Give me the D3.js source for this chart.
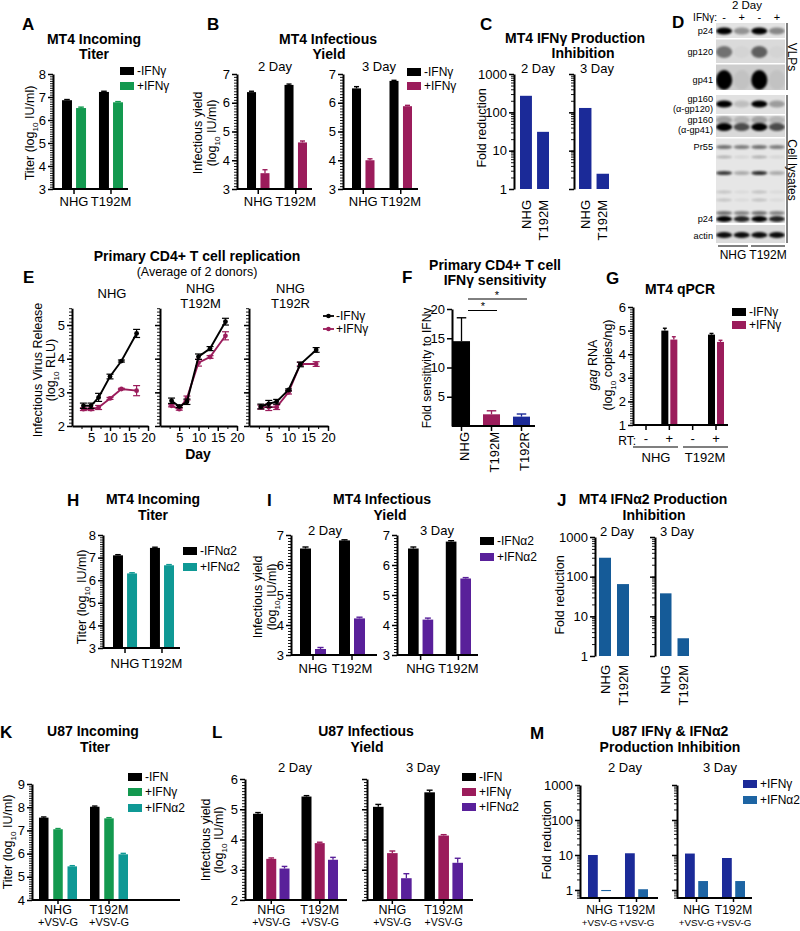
<!DOCTYPE html>
<html>
<head>
<meta charset="utf-8">
<script src="https://cdn.jsdelivr.net/npm/d3@7/dist/d3.min.js"></script>
<style>
 html,body{margin:0;padding:0;background:#fff;}
 svg{display:block;}
</style>
</head>
<body>
<svg id="fig" width="800" height="931"></svg>
<script>
// ================= DATA =================
const mt4Groups = ["NHG", "T192M"];
const u87Groups = ["NHG", "T192M"];
const u87Sub = "+VSV-G";
const legIFNg = ["-IFNγ", "+IFNγ"];
const legIFNa = ["-IFNα2", "+IFNα2"];
const legU87 = ["-IFN", "+IFNγ", "+IFNα2"];
const legM = ["+IFNγ", "+IFNα2"];
const dayLabels = ["2 Day", "3 Day"];

// A  MT4 incoming titer (log10 IU/ml)
const aNoIFN = [6.86, 7.22];
const aNoIFNErr = [0.03, 0.03];
const aIFNg = [6.52, 6.77];
const aIFNgErr = [0.04, 0.03];
// B  MT4 infectious yield
const bDay2NoIFN = [6.37, 6.62];
const bDay2NoIFNErr = [0.03, 0.03];
const bDay2IFNg = [3.55, 4.62];
const bDay2IFNgErr = [0.12, 0.05];
const bDay3NoIFN = [6.5, 6.76];
const bDay3NoIFNErr = [0.06, 0.02];
const bDay3IFNg = [4.0, 5.88];
const bDay3IFNgErr = [0.05, 0.03];
// C  fold reduction
const cDay2 = [270, 31];
const cDay3 = [130, 2.5];
// D  western blot band intensities (lanes: NHG -, NHG +, T192M -, T192M +)
const dLanes = ["-", "+", "-", "+"];
const dGroups = ["NHG", "T192M"];
const dP24VLP = [1.0, 0.35, 1.0, 0.4];
const dGp120 = [0.6, 0.03, 0.7, 0.03];
const dGp41 = [1.0, 0.05, 1.0, 0.05];
const dGp160a120 = [1.0, 0.15, 1.0, 0.3];
const dGp160a41 = [1.0, 0.65, 1.0, 0.65];
const dPr55 = [0.5, 0.45, 0.5, 0.45];
const dGagMid = [0.75, 0.25, 0.8, 0.25];
const dP24Cell = [1.0, 0.85, 1.0, 0.85];
const dActin = [0.95, 0.95, 0.95, 0.95];
// E  primary CD4+ T cell replication (log10 RLU)
const eDays = [3, 5, 7, 10, 13, 17];
const eTitles = [["NHG"], ["NHG", "T192M"], ["NHG", "T192R"]];
const eNHGNo = [2.6, 2.6, 2.85, 3.47, 3.93, 4.75];
const eNHGNoErr = [0.08, 0.08, 0.12, 0.07, 0.03, 0.12];
const eNHGIFNg = [2.5, 2.5, 2.55, 2.82, 3.1, 3.05];
const eNHGIFNgErr = [0.04, 0.04, 0.06, 0.03, 0.02, 0.15];
const eT192MNo = [2.75, 2.58, 2.72, 4.06, 4.3, 5.1];
const eT192MNoErr = [0.08, 0.03, 0.08, 0.08, 0.06, 0.1];
const eT192MIFNg = [2.6, 2.5, 2.83, 3.88, 4.05, 4.68];
const eT192MIFNgErr = [0.03, 0.03, 0.06, 0.1, 0.04, 0.12];
const eT192RNo = [2.58, 2.66, 2.72, 3.07, 3.83, 4.26];
const eT192RNoErr = [0.07, 0.1, 0.07, 0.03, 0.07, 0.07];
const eT192RIFNg = [2.56, 2.56, 2.56, 3.0, 3.84, 3.84];
const eT192RIFNgErr = [0.06, 0.1, 0.07, 0.05, 0.05, 0.07];
// F  fold sensitivity to IFNγ
const fGroups = ["NHG", "T192M", "T192R"];
const fValues = [14.5, 2.0, 1.6];
const fErr = [4.0, 0.6, 0.45];
// G  MT4 qPCR (log10 copies/ng)
const gIds = ["NHG-", "NHG+", "T192M-", "T192M+"];
const gRT = ["-", "+", "-", "+"];
const gNoIFN = [null, 5.0, null, 4.83];
const gNoIFNErr = [0, 0.1, 0, 0.05];
const gIFNg = [null, 4.62, null, 4.52];
const gIFNgErr = [0, 0.12, 0, 0.07];
// H  MT4 incoming titer, IFNα2
const hNoIFN = [7.1, 7.43];
const hNoIFNErr = [0.03, 0.03];
const hIFNa = [6.3, 6.66];
const hIFNaErr = [0.03, 0.03];
// I  MT4 infectious yield, IFNα2
const iDay2NoIFN = [6.55, 6.82];
const iDay2NoIFNErr = [0.05, 0.02];
const iDay2IFNa = [3.2, 4.22];
const iDay2IFNaErr = [0.05, 0.04];
const iDay3NoIFN = [6.55, 6.78];
const iDay3NoIFNErr = [0.05, 0.03];
const iDay3IFNa = [4.18, 5.55];
const iDay3IFNaErr = [0.05, 0.03];
// J  fold reduction IFNα2
const jDay2 = [300, 65];
const jDay3 = [38, 2.8];
// K  U87 incoming titer
const kNoIFN = [7.55, 8.02];
const kNoIFNErr = [0.03, 0.03];
const kIFNg = [7.05, 7.52];
const kIFNgErr = [0.03, 0.03];
const kIFNa = [5.45, 5.97];
const kIFNaErr = [0.03, 0.04];
// L  U87 infectious yield
const lDay2NoIFN = [4.85, 5.42];
const lDay2NoIFNErr = [0.04, 0.03];
const lDay2IFNg = [3.36, 3.88];
const lDay2IFNgErr = [0.03, 0.03];
const lDay2IFNa = [3.04, 3.33];
const lDay2IFNaErr = [0.07, 0.08];
const lDay3NoIFN = [5.08, 5.56];
const lDay3NoIFNErr = [0.08, 0.07];
const lDay3IFNg = [3.55, 4.13];
const lDay3IFNgErr = [0.07, 0.03];
const lDay3IFNa = [2.72, 3.23];
const lDay3IFNaErr = [0.15, 0.15];
// M  U87 fold reduction
const mDay2IFNg = [10, 11.2];
const mDay2IFNa = [0.93, 1.05];
const mDay3IFNg = [11, 8.2];
const mDay3IFNa = [1.8, 1.8];

// ================= STYLE =================
const FONT = "'Liberation Sans', Arial, Helvetica, sans-serif";
const cBlack = "#000000", cGreen = "#13994f", cMaroon = "#9b1c5b", cTeal = "#0f9995",
      cPurple = "#59209a", cNavy = "#1b2a98", cBlueJ = "#155b98", cBlueM2 = "#1d64a3";

const svg = d3.select("#fig").attr("font-family", FONT);
const defs = svg.append("defs");
defs.append("filter").attr("id", "blur").attr("x", "-50%").attr("y", "-50%")
  .attr("width", "200%").attr("height", "200%")
  .append("feGaussianBlur").attr("stdDeviation", 1.1);

// ================= HELPERS =================
function T(x, y, s, size = 13, anchor = "middle", weight = "normal", rot = 0) {
  const t = svg.append("text").attr("x", x).attr("y", y).attr("font-size", size)
    .attr("text-anchor", anchor).attr("font-weight", weight).attr("fill", "#000").text(s);
  if (rot) t.attr("transform", `rotate(${rot},${x},${y})`);
  return t;
}
function yLabel(x, yc, parts, size = 12.5) {
  const t = svg.append("text").attr("x", x).attr("y", yc).attr("dy", "0.35em")
    .attr("font-size", size).attr("text-anchor", "middle")
    .attr("transform", `rotate(-90,${x},${yc})`);
  parts.forEach(p => {
    const ts = t.append("tspan").text(p.t);
    if (p.sub) ts.attr("font-size", size * 0.65).attr("dy", size * 0.3);
    if (p.after) ts.attr("dy", -size * 0.3);
    if (p.it) ts.attr("font-style", "italic");
  });
}
const log10Parts = (pre, post) => [{t: pre}, {t: "10", sub: true}, {t: post, after: true}];

function logMinors(d0, d1) {
  const out = [];
  for (let k = Math.floor(Math.log10(d0)); k <= Math.ceil(Math.log10(d1)); k++)
    for (let m = 1; m <= 9; m++) { const v = m * Math.pow(10, k); if (v >= d0 * 0.999 && v <= d1 * 1.001) out.push(v); }
  return out;
}
function yAxis(x0, y, o) {
  const g = svg.append("g");
  if (o.minors && o.minors.length) {
    const mn = g.append("g").attr("transform", `translate(${x0},0)`)
      .call(d3.axisLeft(y).tickValues(o.minors).tickSize(3).tickFormat(""));
    mn.select(".domain").remove();
    mn.selectAll("line").attr("stroke-width", 0.9);
  }
  const ax = g.append("g").attr("transform", `translate(${x0},0)`)
    .call(d3.axisLeft(y).tickValues(o.majors).tickSize(5).tickSizeOuter(0).tickPadding(2)
      .tickFormat(o.labels === false ? "" : (o.fmt || (d => d))));
  ax.attr("font-family", FONT).attr("font-size", 13);
  ax.select(".domain").attr("stroke-width", 2);
  ax.selectAll(".tick line").attr("stroke-width", 1.5);
  return g;
}
function barChart(o) {
  const g = svg.append("g");
  const xg = d3.scaleBand().domain(o.groups).range(o.range).paddingInner(o.pG).paddingOuter(0);
  const xs = d3.scaleBand().domain(d3.range(o.series.length)).range([0, xg.bandwidth()])
    .paddingInner(o.pS || 0).paddingOuter(0);
  const base = o.y.range()[0];
  o.series.forEach((s, i) => {
    o.groups.forEach((gr, j) => {
      const v = s.v[j];
      if (v == null) return;
      const col = Array.isArray(s.c) ? s.c[j] : s.c;
      const x = xg(gr) + xs(i), w = xs.bandwidth();
      // on log panels a value below 1 is drawn from the 1 line downward (as in the original)
      if (o.log && v < 1) {
        g.append("rect").attr("x", x).attr("y", o.y(1)).attr("width", w)
          .attr("height", Math.max(1, o.y(v) - o.y(1))).attr("fill", col);
      } else {
        g.append("rect").attr("x", x).attr("y", o.y(v)).attr("width", w)
          .attr("height", Math.max(0, base - o.y(v))).attr("fill", col);
      }
      if (s.e && s.e[j] > 0) {
        const cx = x + w / 2, y1 = o.y(v + s.e[j]);
        g.append("line").attr("x1", cx).attr("x2", cx).attr("y1", o.y(v)).attr("y2", y1)
          .attr("stroke", col).attr("stroke-width", 1.3);
        g.append("line").attr("x1", cx - w * 0.28).attr("x2", cx + w * 0.28).attr("y1", y1).attr("y2", y1)
          .attr("stroke", col).attr("stroke-width", 1.4);
      }
    });
  });
  if (o.axisEnd) {
    g.append("line").attr("x1", o.axisX).attr("x2", o.axisEnd).attr("y1", base).attr("y2", base)
      .attr("stroke", "#000").attr("stroke-width", 2);
  }
  if (o.xTicks !== false) {
    const ax = g.append("g").attr("transform", `translate(0,${base})`)
      .call(d3.axisBottom(xg).tickSize(o.tickLen || 5).tickFormat(""));
    ax.select(".domain").remove();
    ax.selectAll("line").attr("stroke-width", 1.5);
  }
  return xg;
}
function xLabels(xg, yb, groups, sub = null, size = 13, subSize = 10.5) {
  groups.forEach(gr => {
    const cx = xg(gr) + xg.bandwidth() / 2;
    T(cx, yb, gr, size);
    if (sub) T(cx, yb + 12, sub, subSize);
  });
}
function xLabelsRot(xg, ytop, groups, size = 13, dx = 0) {
  groups.forEach(gr => {
    const cx = xg(gr) + xg.bandwidth() / 2 + dx;
    svg.append("text").attr("x", cx).attr("y", ytop).attr("dy", "0.35em").attr("text-anchor", "end")
      .attr("font-size", size).attr("transform", `rotate(-90,${cx},${ytop})`).text(gr);
  });
}
function legendBoxes(x, ys, labels, colors, size = 12) {
  labels.forEach((lab, i) => {
    svg.append("rect").attr("x", x).attr("y", ys[i] - 4).attr("width", 14).attr("height", 8).attr("fill", colors[i]);
    T(x + 17, ys[i] + 4.3, lab, size, "start");
  });
}
const linMinors = (a, b, s) => d3.range(a, b + s / 2, s);

// ================= PANEL A =================
{
  const y = d3.scaleLinear().domain([3, 8]).range([189, 74]);
  const xg = barChart({y, axisX: 53, axisEnd: 128, range: [62, 123], pG: 0.35, pS: 0.29, groups: mt4Groups,
    series: [{v: aNoIFN, e: aNoIFNErr, c: cBlack}, {v: aIFNg, e: aIFNgErr, c: cGreen}]});
  yAxis(53, y, {majors: [3, 4, 5, 6, 7, 8], minors: linMinors(3, 8, 0.1)});
  xLabels(xg, 206, mt4Groups);
  T(22, 30, "A", 17, "start", "bold");
  T(94, 43.5, "MT4 Incoming", 14, "middle", "bold");
  T(94, 59, "Titer", 14, "middle", "bold");
  yLabel(30, 133, log10Parts("Titer (log", " IU/ml)"));
  legendBoxes(120, [71, 86], legIFNg, [cBlack, cGreen]);
}
// ================= PANEL B =================
{
  const y = d3.scaleLinear().domain([3, 7]).range([189, 74]);
  const xg2 = barChart({y, axisX: 237, axisEnd: 312, range: [247, 307], pG: 0.4, pS: 0.33, groups: mt4Groups,
    series: [{v: bDay2NoIFN, e: bDay2NoIFNErr, c: cBlack}, {v: bDay2IFNg, e: bDay2IFNgErr, c: cMaroon}]});
  yAxis(237, y, {majors: [3, 4, 5, 6, 7], minors: linMinors(3, 7, 0.1)});
  xLabels(xg2, 206, mt4Groups);
  const xg3 = barChart({y, axisX: 343, axisEnd: 418, range: [352, 412], pG: 0.4, pS: 0.33, groups: mt4Groups,
    series: [{v: bDay3NoIFN, e: bDay3NoIFNErr, c: cBlack}, {v: bDay3IFNg, e: bDay3IFNgErr, c: cMaroon}]});
  yAxis(343, y, {majors: [3, 4, 5, 6, 7], minors: linMinors(3, 7, 0.1)});
  xLabels(xg3, 206, mt4Groups);
  T(207, 30, "B", 17, "start", "bold");
  T(328, 43.5, "MT4 Infectious", 14, "middle", "bold");
  T(329, 59, "Yield", 14, "middle", "bold");
  T(275, 71, dayLabels[0], 13);
  T(379, 71, dayLabels[1], 13);
  yLabel(198, 133, [{t: "Infectious yield"}]);
  yLabel(212, 133, log10Parts("(log", " IU/ml)"));
  legendBoxes(407, [72, 86], legIFNg, [cBlack, cMaroon]);
}
// ================= PANEL C =================
{
  const y = d3.scaleLog().domain([1, 1000]).range([189, 74]);
  const xg2 = barChart({y, log: true, range: [520, 549], pG: 0.3, groups: mt4Groups, xTicks: false,
    series: [{v: cDay2, c: cNavy}]});
  yAxis(514, y, {majors: [1, 10, 100, 1000], minors: logMinors(1, 1000)});
  xLabelsRot(xg2, 200, mt4Groups);
  const xg3 = barChart({y, log: true, range: [579, 609], pG: 0.29, groups: mt4Groups, xTicks: false,
    series: [{v: cDay3, c: cNavy}]});
  yAxis(574, y, {majors: [1, 10, 100, 1000], minors: logMinors(1, 1000), labels: false});
  xLabelsRot(xg3, 200, mt4Groups);
  T(480, 30, "C", 17, "start", "bold");
  T(575, 43, "MT4 IFNγ Production", 14, "middle", "bold");
  T(583, 57.5, "Inhibition", 14, "middle", "bold");
  T(538, 72.5, dayLabels[0], 13);
  T(597, 72.5, dayLabels[1], 13);
  yLabel(482, 128, [{t: "Fold reduction"}]);
}
// ================= PANEL D (blot) =================
{
  const g = svg.append("g");
  const lane = d3.scaleBand().domain(d3.range(dLanes.length)).range([716, 785]).paddingInner(0.08);
  const strips = [[23, 38, "#e3e3e3"], [39.5, 63, "#dadada"], [64.5, 90, "#cdcdcd"], [95, 114, "#e1e1e1"],
                  [115.5, 137, "#d9d9d9"], [138.5, 223, "#e6e6e6"], [225, 243, "#dcdcdc"]];
  strips.forEach((s, i) => {
    defs.append("clipPath").attr("id", "cl" + i).append("rect")
      .attr("x", 716).attr("y", s[0]).attr("width", 69).attr("height", s[1] - s[0]);
    g.append("rect").attr("x", 716).attr("y", s[0]).attr("width", 69).attr("height", s[1] - s[0]).attr("fill", s[2]);
  });
  const bands = [
    {s: 0, y: 31, h: 7, vals: dP24VLP},
    {s: 1, y: 52, h: 12, vals: dGp120, k: 0.8},
    {s: 2, y: 80, h: 20, vals: dGp41},
    {s: 3, y: 104, h: 7, vals: dGp160a120},
    {s: 4, y: 120, h: 8, vals: dGp160a41, k: 0.25},
    {s: 4, y: 127, h: 8, vals: dGp160a41},
    {s: 5, y: 147, h: 4, vals: dPr55},
    {s: 5, y: 157, h: 3, vals: dGagMid, k: 0.3},
    {s: 5, y: 173, h: 4, vals: dGagMid},
    {s: 5, y: 192, h: 3, vals: dGagMid, k: 0.2},
    {s: 5, y: 200, h: 3, vals: dGagMid, k: 0.2},
    {s: 5, y: 213, h: 4, vals: dP24Cell, k: 0.5},
    {s: 5, y: 219, h: 6, vals: dP24Cell},
    {s: 6, y: 235, h: 6, vals: dActin}
  ];
  bands.forEach(b => {
    const bg = g.append("g").attr("clip-path", `url(#cl${b.s})`);
    b.vals.forEach((v, i) => {
      bg.append("ellipse").attr("cx", lane(i) + lane.bandwidth() / 2).attr("cy", b.y)
        .attr("rx", lane.bandwidth() / 2).attr("ry", b.h / 2)
        .attr("fill", "#000").attr("opacity", v * (b.k || 1)).attr("filter", "url(#blur)");
    });
  });
  const lab = [["p24", 34], ["gp120", 55], ["gp41", 83], ["gp160", 102], ["(α-gp120)", 111.5],
               ["gp160", 123], ["(α-gp41)", 132.5], ["Pr55", 150], ["p24", 222], ["actin", 238.5]];
  lab.forEach(l => T(713, l[1], l[0], 9.2, "end"));
  T(747, 8.5, "2 Day", 11.5);
  T(717, 21, "IFNγ:", 10, "end");
  dLanes.forEach((s, i) => T(lane(i) + lane.bandwidth() / 2, 21, s, 11));
  g.append("line").attr("x1", 787).attr("x2", 787).attr("y1", 23).attr("y2", 90).attr("stroke", "#000").attr("stroke-width", 1);
  g.append("line").attr("x1", 787).attr("x2", 787).attr("y1", 95).attr("y2", 243).attr("stroke", "#000").attr("stroke-width", 1);
  T(792, 57, "VLPs", 12, "middle", "normal", 90).attr("dy", "0.35em");
  T(792, 170, "Cell lysates", 12, "middle", "normal", 90).attr("dy", "0.35em");
  g.append("line").attr("x1", 718).attr("x2", 748).attr("y1", 246).attr("y2", 246).attr("stroke", "#000");
  g.append("line").attr("x1", 751).attr("x2", 785).attr("y1", 246).attr("y2", 246).attr("stroke", "#000");
  T(733, 259, dGroups[0], 12);
  T(768, 259, dGroups[1], 12);
  T(672, 28, "D", 17, "start", "bold");
}
// ================= PANEL E =================
{
  const eXr = [[72, 148], [160, 237], [249, 328]];
  const y = d3.scaleLinear().domain([2, 5.5]).range([426, 308.2]);
  const sets = [
    [eNHGNo, eNHGNoErr, eNHGIFNg, eNHGIFNgErr],
    [eT192MNo, eT192MNoErr, eT192MIFNg, eT192MIFNgErr],
    [eT192RNo, eT192RNoErr, eT192RIFNg, eT192RIFNgErr]
  ];
  eXr.forEach((r, i) => {
    const x = d3.scaleLinear().domain([0, 20]).range(r);
    yAxis(r[0], y, {majors: [2, 3, 4, 5], minors: linMinors(2, 5.5, 0.1), labels: i === 0});
    const g = svg.append("g");
    const mn = g.append("g").attr("transform", "translate(0,426)")
      .call(d3.axisBottom(x).tickValues([2.5, 7.5, 12.5, 17.5]).tickSize(3).tickFormat(""));
    mn.select(".domain").remove();
    const xa = g.append("g").attr("transform", "translate(0,426)")
      .call(d3.axisBottom(x).tickValues([5, 10, 15, 20]).tickSize(5).tickSizeOuter(0).tickPadding(2));
    xa.attr("font-family", FONT).attr("font-size", 13);
    xa.select(".domain").attr("stroke-width", 2);
    xa.selectAll(".tick line").attr("stroke-width", 1.5);
    const [no, noE, ifn, ifnE] = sets[i];
    [[ifn, ifnE, cMaroon], [no, noE, cBlack]].forEach(([vals, errs, col]) => {
      const line = d3.line().x((d, j) => x(eDays[j])).y(d => y(d));
      g.append("path").datum(vals).attr("d", line).attr("fill", "none").attr("stroke", col).attr("stroke-width", 1.9);
      vals.forEach((v, j) => {
        const cx = x(eDays[j]);
        g.append("line").attr("x1", cx).attr("x2", cx).attr("y1", y(v - errs[j])).attr("y2", y(v + errs[j]))
          .attr("stroke", col).attr("stroke-width", 1.2);
        [v - errs[j], v + errs[j]].forEach(ev => g.append("line").attr("x1", cx - 3.5).attr("x2", cx + 3.5)
          .attr("y1", y(ev)).attr("y2", y(ev)).attr("stroke", col).attr("stroke-width", 1.2));
        g.append("circle").attr("cx", cx).attr("cy", y(v)).attr("r", 2.4).attr("fill", col);
      });
    });
    const cx = (r[0] + r[1]) / 2 + 2;
    if (eTitles[i].length === 1) T(cx, 298, eTitles[i][0], 13);
    else { T(cx, 293, eTitles[i][0], 13); T(cx, 308, eTitles[i][1], 13); }
  });
  T(198, 459, "Day", 14, "middle", "bold");
  T(23, 283, "E", 17, "start", "bold");
  T(197, 261, "Primary CD4+ T cell replication", 14, "middle", "bold");
  T(197, 276, "(Average of 2 donors)", 12.5);
  yLabel(38, 370, [{t: "Infectious Virus Release"}], 12.5);
  yLabel(51, 370, log10Parts("(log", " RLU)"), 12.5);
  [[316, cBlack, legIFNg[0]], [329, cMaroon, legIFNg[1]]].forEach(([yy, col, lab]) => {
    svg.append("line").attr("x1", 323).attr("x2", 334).attr("y1", yy).attr("y2", yy).attr("stroke", col).attr("stroke-width", 1.8);
    svg.append("circle").attr("cx", 328.5).attr("cy", yy).attr("r", 2.3).attr("fill", col);
    T(336, yy + 4.3, lab, 12, "start");
  });
}
// ================= PANEL F =================
{
  const y = d3.scaleLinear().domain([0, 20]).range([426, 309]);
  const xg = barChart({y, axisX: 452, axisEnd: 535, range: [453, 530], pG: 0.433, groups: fGroups,
    series: [{v: fValues, e: fErr, c: [cBlack, cMaroon, cNavy]}]});
  yAxis(452, y, {majors: [5, 10, 15, 20]});
  xLabelsRot(xg, 432, fGroups, 13, 3);
  T(402, 283, "F", 17, "start", "bold");
  T(495, 270, "Primary CD4+ T cell", 14, "middle", "bold");
  T(495, 285, "IFNγ sensitivity", 14, "middle", "bold");
  yLabel(427, 368, [{t: "Fold sensitivity to IFNγ"}], 12);
  svg.append("line").attr("x1", 468).attr("x2", 527).attr("y1", 299).attr("y2", 299).attr("stroke", "#000").attr("stroke-width", 1);
  svg.append("line").attr("x1", 468).attr("x2", 497).attr("y1", 310.5).attr("y2", 310.5).attr("stroke", "#000").attr("stroke-width", 1);
  T(497, 298.5, "*", 11);
  T(483, 310, "*", 11);
}
// ================= PANEL G =================
{
  const y = d3.scaleLinear().domain([1, 6]).range([425, 307]);
  const xg = barChart({y, axisX: 633, axisEnd: 728, range: [638, 724], pG: 0.314, pS: 0.22, groups: gIds,
    series: [{v: gNoIFN, e: gNoIFNErr, c: cBlack}, {v: gIFNg, e: gIFNgErr, c: cMaroon}]});
  yAxis(633, y, {majors: [1, 2, 3, 4, 5, 6], minors: linMinors(1, 6, 0.1)});
  gIds.forEach((id, i) => T(xg(id) + xg.bandwidth() / 2, 443, gRT[i], 13));
  T(636, 444.5, "RT:", 12, "end");
  svg.append("line").attr("x1", 633).attr("x2", 678).attr("y1", 447).attr("y2", 447).attr("stroke", "#000").attr("stroke-width", 1.2);
  svg.append("line").attr("x1", 683).attr("x2", 728).attr("y1", 447).attr("y2", 447).attr("stroke", "#000").attr("stroke-width", 1.2);
  T(656, 462, mt4Groups[0], 13);
  T(705, 462, mt4Groups[1], 13);
  T(606, 284, "G", 17, "start", "bold");
  T(680, 294, "MT4 qPCR", 14, "middle", "bold");
  yLabel(593, 365, [{t: "gag", it: true}, {t: " RNA"}]);
  yLabel(608, 365, log10Parts("(log", " copies/ng)"));
  legendBoxes(732, [312, 325], legIFNg, [cBlack, cMaroon]);
}
// ================= PANEL H =================
{
  const y = d3.scaleLinear().domain([3, 8]).range([648, 535]);
  const xg = barChart({y, axisX: 103, axisEnd: 180, range: [113, 174], pG: 0.35, pS: 0.29, groups: mt4Groups,
    series: [{v: hNoIFN, e: hNoIFNErr, c: cBlack}, {v: hIFNa, e: hIFNaErr, c: cTeal}]});
  yAxis(103, y, {majors: [3, 4, 5, 6, 7, 8], minors: linMinors(3, 8, 0.1)});
  xLabels(xg, 668, mt4Groups);
  T(67, 506, "H", 17, "start", "bold");
  T(153, 504, "MT4 Incoming", 14, "middle", "bold");
  T(153, 520, "Titer", 14, "middle", "bold");
  yLabel(82, 597, log10Parts("Titer (log", " IU/ml)"));
  legendBoxes(183, [551, 567], legIFNa, [cBlack, cTeal]);
}
// ================= PANEL I =================
{
  const y = d3.scaleLinear().domain([3, 7]).range([655, 535]);
  const xg2 = barChart({y, axisX: 291, axisEnd: 377, range: [300, 365], pG: 0.333, pS: 0.267, groups: mt4Groups,
    series: [{v: iDay2NoIFN, e: iDay2NoIFNErr, c: cBlack}, {v: iDay2IFNa, e: iDay2IFNaErr, c: cPurple}]});
  yAxis(291, y, {majors: [3, 4, 5, 6, 7], minors: linMinors(3, 7, 0.1)});
  xLabels(xg2, 673, mt4Groups);
  const xg3 = barChart({y, axisX: 397, axisEnd: 478, range: [408, 471], pG: 0.333, pS: 0.267, groups: mt4Groups,
    series: [{v: iDay3NoIFN, e: iDay3NoIFNErr, c: cBlack}, {v: iDay3IFNa, e: iDay3IFNaErr, c: cPurple}]});
  yAxis(397, y, {majors: [3, 4, 5, 6, 7], minors: linMinors(3, 7, 0.1)});
  xLabels(xg3, 673, mt4Groups);
  T(267, 506, "I", 17, "start", "bold");
  T(382, 504, "MT4 Infectious", 14, "middle", "bold");
  T(390, 520, "Yield", 14, "middle", "bold");
  T(325, 535, dayLabels[0], 13);
  T(437, 535, dayLabels[1], 13);
  yLabel(258, 597, [{t: "Infectious yield"}]);
  yLabel(272, 597, log10Parts("(log", " IU/ml)"));
  legendBoxes(480, [541, 557], legIFNa, [cBlack, cPurple]);
}
// ================= PANEL J =================
{
  const y = d3.scaleLog().domain([1, 1000]).range([656, 537]);
  const xg2 = barChart({y, log: true, range: [599, 629], pG: 0.333, groups: mt4Groups, xTicks: false,
    series: [{v: jDay2, c: cBlueJ}]});
  yAxis(595, y, {majors: [1, 10, 100, 1000], minors: logMinors(1, 1000)});
  xLabelsRot(xg2, 665, mt4Groups);
  const xg3 = barChart({y, log: true, range: [660, 689], pG: 0.343, groups: mt4Groups, xTicks: false,
    series: [{v: jDay3, c: cBlueJ}]});
  yAxis(655, y, {majors: [1, 10, 100, 1000], minors: logMinors(1, 1000), labels: false});
  xLabelsRot(xg3, 665, mt4Groups);
  T(557, 506, "J", 17, "start", "bold");
  T(653, 504, "MT4 IFNα2 Production", 14, "middle", "bold");
  T(654, 520, "Inhibition", 14, "middle", "bold");
  T(617, 535.5, dayLabels[0], 13);
  T(677, 535.5, dayLabels[1], 13);
  yLabel(560, 595, [{t: "Fold reduction"}]);
}
// ================= PANEL K =================
{
  const y = d3.scaleLinear().domain([4, 9]).range([900, 784]);
  const xg = barChart({y, axisX: 32, axisEnd: 180, range: [39, 128], pG: 0.255, pS: 0.333, groups: u87Groups, tickLen: 4,
    series: [{v: kNoIFN, e: kNoIFNErr, c: cBlack}, {v: kIFNg, e: kIFNgErr, c: cGreen}, {v: kIFNa, e: kIFNaErr, c: cTeal}]});
  yAxis(32, y, {majors: [4, 5, 6, 7, 8, 9], minors: linMinors(4, 9, 0.1)});
  xLabels(xg, 914, u87Groups, u87Sub, 12.5, 11);
  T(0, 738, "K", 17, "start", "bold");
  T(93, 736, "U87 Incoming", 14, "middle", "bold");
  T(95, 752, "Titer", 14, "middle", "bold");
  yLabel(8, 842, log10Parts("Titer (log", " IU/ml)"));
  legendBoxes(128, [777, 792, 808], legU87, [cBlack, cGreen, cTeal]);
}
// ================= PANEL L =================
{
  const y = d3.scaleLinear().domain([2, 6]).range([900, 779]);
  const xg2 = barChart({y, axisX: 245, axisEnd: 347, range: [253, 338], pG: 0.247, pS: 0.245, groups: u87Groups, tickLen: 4,
    series: [{v: lDay2NoIFN, e: lDay2NoIFNErr, c: cBlack}, {v: lDay2IFNg, e: lDay2IFNgErr, c: cMaroon}, {v: lDay2IFNa, e: lDay2IFNaErr, c: cPurple}]});
  yAxis(245, y, {majors: [2, 3, 4, 5, 6], minors: linMinors(2, 6, 0.1)});
  xLabels(xg2, 914, u87Groups, u87Sub, 12.5, 10.5);
  const xg3 = barChart({y, axisX: 367, axisEnd: 473, range: [373, 463], pG: 0.247, pS: 0.245, groups: u87Groups, tickLen: 4,
    series: [{v: lDay3NoIFN, e: lDay3NoIFNErr, c: cBlack}, {v: lDay3IFNg, e: lDay3IFNgErr, c: cMaroon}, {v: lDay3IFNa, e: lDay3IFNaErr, c: cPurple}]});
  yAxis(367, y, {majors: [2, 3, 4, 5, 6], minors: linMinors(2, 6, 0.1), labels: false});
  xLabels(xg3, 914, u87Groups, u87Sub, 12.5, 10.5);
  T(212, 738, "L", 17, "start", "bold");
  T(366, 736, "U87 Infectious", 14, "middle", "bold");
  T(367, 752, "Yield", 14, "middle", "bold");
  T(295, 772, dayLabels[0], 13);
  T(423, 772, dayLabels[1], 13);
  yLabel(206, 840, [{t: "Infectious yield"}]);
  yLabel(219, 840, log10Parts("(log", " IU/ml)"));
  legendBoxes(462, [777, 792, 807], legU87, [cBlack, cMaroon, cPurple]);
}
// ================= PANEL M =================
{
  const y = d3.scaleLog().domain([0.59, 1000]).range([898, 785]);
  const xg2 = barChart({y, log: true, axisX: 580, axisEnd: 658, range: [588, 648], pG: 0.378, pS: 0.26, groups: u87Groups, tickLen: 4,
    series: [{v: mDay2IFNg, c: cNavy}, {v: mDay2IFNa, c: cBlueM2}]});
  yAxis(580, y, {majors: [1, 10, 100, 1000], minors: logMinors(0.59, 1000)});
  xLabels(xg2, 914, u87Groups, u87Sub, 12, 9.8);
  const xg3 = barChart({y, log: true, axisX: 677, axisEnd: 752, range: [685, 745], pG: 0.378, pS: 0.26, groups: u87Groups, tickLen: 4,
    series: [{v: mDay3IFNg, c: cNavy}, {v: mDay3IFNa, c: cBlueM2}]});
  yAxis(677, y, {majors: [1, 10, 100, 1000], minors: logMinors(0.59, 1000), labels: false});
  xLabels(xg3, 914, u87Groups, u87Sub, 12, 9.8);
  T(530, 739, "M", 17, "start", "bold");
  T(670, 736, "U87 IFNγ & IFNα2", 14, "middle", "bold");
  T(670, 752, "Production Inhibition", 14, "middle", "bold");
  T(625, 772, dayLabels[0], 13);
  T(720, 772, dayLabels[1], 13);
  yLabel(547, 840, [{t: "Fold reduction"}]);
  legendBoxes(743, [784, 800], legM, [cNavy, cBlueM2]);
}
</script>
</body>
</html>
